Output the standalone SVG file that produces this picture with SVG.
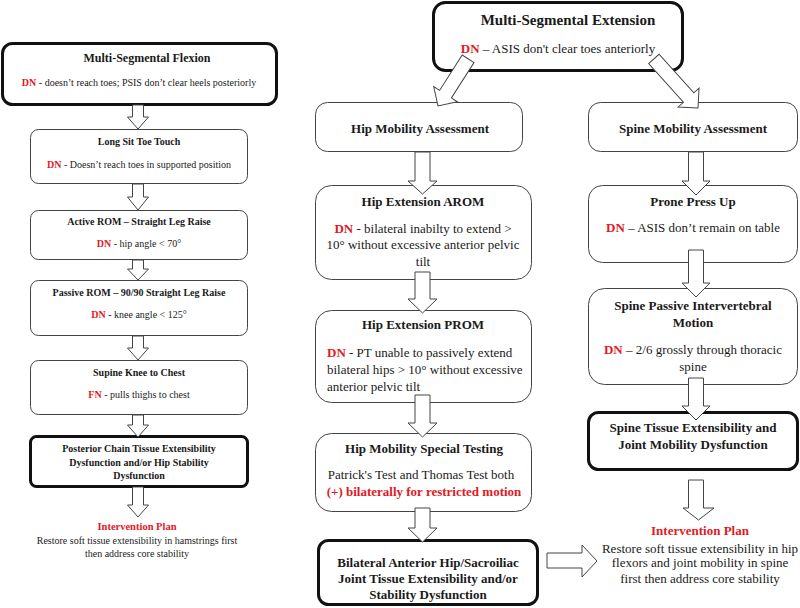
<svg xmlns="http://www.w3.org/2000/svg" width="800" height="608" viewBox="0 0 800 608">
<style>
  text { font-family: "Liberation Serif", "Times New Roman", serif; fill: #1a1a1a; text-anchor: middle; }
  .b { font-weight: bold; }
  .r { fill: #e3191f; font-weight: bold; }
  .s10 { font-size: 10px; }
  .s12 { font-size: 12px; }
  .s13 { font-size: 13px; }
  .s15 { font-size: 15px; }
  .thin { fill: #fff; stroke: #444; stroke-width: 1; }
  .thick { fill: #fff; stroke: #111; stroke-width: 3; }
  .arr { fill: #fff; stroke: #444; stroke-width: 1; stroke-linejoin: miter; }
</style>
<rect width="800" height="608" fill="#fff"/>

<!-- Left column -->
<g id="flexion">
  <rect class="thick" x="2.5" y="43.5" width="274" height="61" rx="10"/>
  <text class="b s12" x="147" y="62">Multi-Segmental Flexion</text>
  <text class="s10" x="139" y="86"><tspan class="r">DN</tspan> - doesn’t reach toes; PSIS don’t clear heels posteriorly</text>
</g>
<g id="longsit">
  <rect class="thin" x="30.5" y="129.5" width="217" height="54" rx="8"/>
  <text class="b s10" x="139" y="145">Long Sit Toe Touch</text>
  <text class="s10" x="139" y="168"><tspan class="r">DN</tspan> - Doesn’t reach toes in supported position</text>
</g>
<g id="arom-slr">
  <rect class="thin" x="30.5" y="210.5" width="217" height="49" rx="8"/>
  <text class="b s10" x="139" y="225">Active ROM – Straight Leg Raise</text>
  <text class="s10" x="139" y="247"><tspan class="r">DN</tspan> - hip angle &lt; 70°</text>
</g>
<g id="prom-slr">
  <rect class="thin" x="30.5" y="280.5" width="217" height="55" rx="8"/>
  <text class="b s10" x="139" y="296">Passive ROM – 90/90 Straight Leg Raise</text>
  <text class="s10" x="139" y="318"><tspan class="r">DN</tspan> - knee angle &lt; 125°</text>
</g>
<g id="supine">
  <rect class="thin" x="30.5" y="360.5" width="217" height="54" rx="8"/>
  <text class="b s10" x="139" y="376">Supine Knee to Chest</text>
  <text class="s10" x="139" y="398"><tspan class="r">FN</tspan> - pulls thighs to chest</text>
</g>
<g id="posterior-chain">
  <rect class="thick" x="30.5" y="436.5" width="217" height="50" rx="6"/>
  <text class="b s10" x="139" y="452">Posterior Chain Tissue Extensibility</text>
  <text class="b s10" x="139" y="466">Dysfunction and/or Hip Stability</text>
  <text class="b s10" x="139" y="479">Dysfunction</text>
</g>
<g id="plan-left">
  <text class="r s10" x="137" y="530" style="font-size:10.5px">Intervention Plan</text>
  <text class="s10" x="137" y="544">Restore soft tissue extensibility in hamstrings first</text>
  <text class="s10" x="137" y="557">then address core stability</text>
</g>

<!-- Middle column -->
<g id="extension">
  <rect class="thick" x="433.5" y="2.5" width="249" height="68" rx="12"/>
  <text class="b s15" x="568" y="25">Multi-Segmental Extension</text>
  <text class="s13" x="558" y="53"><tspan class="r">DN</tspan> – ASIS don't clear toes anteriorly</text>
</g>
<g id="hip-mobility">
  <rect class="thin" x="315.5" y="102.5" width="207" height="49" rx="12"/>
  <text class="b s13" x="420" y="133">Hip Mobility Assessment</text>
</g>
<g id="hip-arom">
  <rect class="thin" x="315.5" y="185.5" width="216" height="94" rx="16"/>
  <text class="b s13" x="423" y="206">Hip Extension AROM</text>
  <text class="s13" x="423" y="233"><tspan class="r">DN</tspan> - bilateral inabilty to extend &gt;</text>
  <text class="s13" x="423" y="249">10° without excessive anterior pelvic</text>
  <text class="s13" x="423" y="266">tilt</text>
</g>
<g id="hip-prom">
  <rect class="thin" x="315.5" y="310.5" width="216" height="92" rx="16"/>
  <text class="b s13" x="423" y="329">Hip Extension PROM</text>
  <text class="s13" x="327" y="357" style="text-anchor:start"><tspan class="r">DN</tspan> - PT unable to passively extend</text>
  <text class="s13" x="327" y="374" style="text-anchor:start">bilateral hips &gt; 10° without excessive</text>
  <text class="s13" x="327" y="391" style="text-anchor:start">anterior pelvic tilt</text>
</g>
<g id="hip-special">
  <rect class="thin" x="315.5" y="433.5" width="216" height="78" rx="16"/>
  <text class="b s13" x="424" y="453">Hip Mobility Special Testing</text>
  <text class="s13" x="421" y="479">Patrick's Test and Thomas Test both</text>
  <text class="r s13" x="424" y="496">(+) bilaterally for restricted motion</text>
</g>
<g id="hip-dysfunction">
  <rect class="thick" x="318.5" y="540.5" width="219" height="64" rx="10"/>
  <text class="b s13" x="428" y="567">Bilateral Anterior Hip/Sacroiliac</text>
  <text class="b s13" x="428" y="583">Joint Tissue Extensibility and/or</text>
  <text class="b s13" x="428" y="599">Stability Dysfunction</text>
</g>

<!-- Right column -->
<g id="spine-mobility">
  <rect class="thin" x="588.5" y="102.5" width="209" height="49" rx="12"/>
  <text class="b s13" x="693" y="133">Spine Mobility Assessment</text>
</g>
<g id="prone">
  <rect class="thin" x="588.5" y="185.5" width="209" height="77" rx="14"/>
  <text class="b s13" x="693" y="206">Prone Press Up</text>
  <text class="s13" x="693" y="232"><tspan class="r">DN</tspan> – ASIS don’t remain on table</text>
</g>
<g id="spine-pivm">
  <rect class="thin" x="588.5" y="288.5" width="209" height="96" rx="16"/>
  <text class="b s13" x="693" y="310">Spine Passive Intervertebral</text>
  <text class="b s13" x="693" y="327">Motion</text>
  <text class="s13" x="693" y="354"><tspan class="r">DN</tspan> – 2/6 grossly through thoracic</text>
  <text class="s13" x="693" y="371">spine</text>
</g>
<g id="spine-dysfunction">
  <rect class="thick" x="588.5" y="412.5" width="209" height="57" rx="10"/>
  <text class="b s13" x="693" y="432">Spine Tissue Extensibility and</text>
  <text class="b s13" x="693" y="449">Joint Mobility Dysfunction</text>
</g>
<g id="plan-right">
  <text class="r s13" x="700" y="535">Intervention Plan</text>
  <text class="s13" x="700" y="553">Restore soft tissue extensibility in hip</text>
  <text class="s13" x="700" y="567">flexors and joint mobility in spine</text>
  <text class="s13" x="700" y="583">first then address core stability</text>
</g>

<!-- Connectors -->
<g id="connectors">
  <!-- left column -->
  <polygon class="arr" points="132.5,105 143.5,105 143.5,117 148.5,117 138,129 127.5,117 132.5,117"/>
  <polygon class="arr" points="132.5,184 143.5,184 143.5,197 148.5,197 138,210 127.5,197 132.5,197"/>
  <polygon class="arr" points="132.5,260 143.5,260 143.5,269 148.5,269 138,280 127.5,269 132.5,269"/>
  <polygon class="arr" points="132.5,336 143.5,336 143.5,348 148.5,348 138,360 127.5,348 132.5,348"/>
  <polygon class="arr" points="132.5,415 143.5,415 143.5,425 148.5,425 138,437 127.5,425 132.5,425"/>
  <polygon class="arr" points="132.5,487 143.5,487 143.5,505 148.5,505 138,517 127.5,505 132.5,505"/>
  <!-- diagonal from extension -->
  <polygon class="arr" transform="translate(438,106) rotate(32.5)" points="-7,-56 7,-56 7,-14 14,-14 0,0 -14,-14 -7,-14"/>
  <polygon class="arr" transform="translate(698,108) rotate(-42)" points="-7,-66 7,-66 7,-14 14,-14 0,0 -14,-14 -7,-14"/>
  <!-- middle column -->
  <polygon class="arr" points="415,152 430,152 430,181 437,181 422.5,194 408,181 415,181"/>
  <polygon class="arr" points="415,272 430,272 430,299 437,299 422.5,313 408,299 415,299"/>
  <polygon class="arr" points="415,395 430,395 430,423 437,423 422.5,437 408,423 415,423"/>
  <polygon class="arr" points="415,508 430,508 430,528 437,528 422.5,542 408,528 415,528"/>
  <!-- right column -->
  <polygon class="arr" points="688.5,152 703.5,152 703.5,181 710,181 696,195 682,181 688.5,181"/>
  <polygon class="arr" points="688.5,250 703.5,250 703.5,283 710,283 696,297 682,283 688.5,283"/>
  <polygon class="arr" points="688.5,378 703.5,378 703.5,406 710,406 696,420 682,406 688.5,406"/>
  <polygon class="arr" points="688.5,480 703.5,480 703.5,508 714,508 698.5,520 683,508 688.5,508"/>
  <!-- horizontal -->
  <polygon class="arr" points="547,553 582,553 582,545 597,561 582,577 582,568 547,568"/>
</g>
</svg>
